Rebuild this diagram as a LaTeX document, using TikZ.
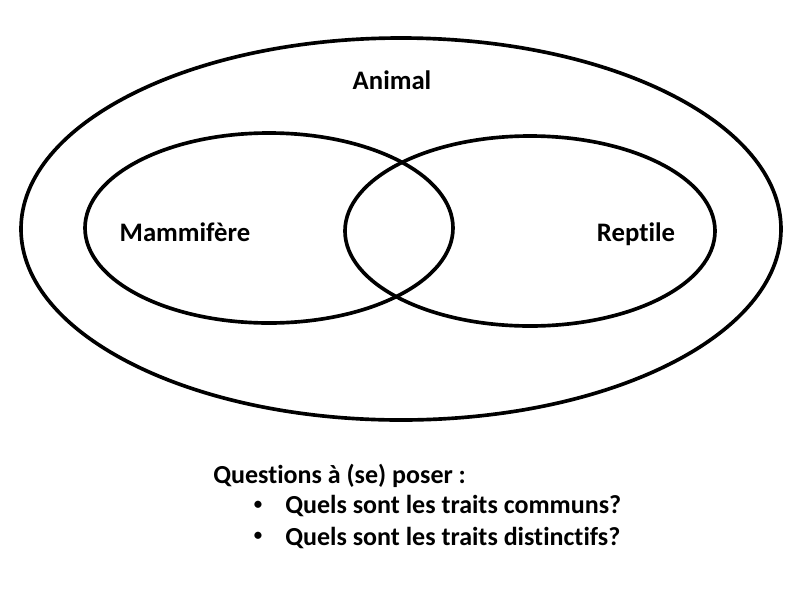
\documentclass[tikz,border=0pt]{standalone}
\usepackage{fontspec}
\setmainfont{Carlito}[Ligatures=NoCommon]
\usetikzlibrary{shapes.geometric}

\tikzset{
	set/.style={draw, ellipse, line width=2.6pt, inner sep=0pt},
	lbl/.style={font=\fontsize{19}{23}\selectfont\bfseries},
	qtext/.style={font=\fontsize{18.5}{22}\selectfont\bfseries, anchor=west, inner sep=0pt},
	dot/.style={font=\fontsize{12}{14}\selectfont\bfseries, inner sep=0pt},
}

\begin{document}
\begin{tikzpicture}
	\useasboundingbox (0,0) rectangle (20,-15);

	\node[set, minimum width=19cm, minimum height=9.55cm] (animal) at (10.025,-5.725) {};
	\node[set, minimum width=9.2cm, minimum height=4.75cm] (mamm) at (6.725,-5.7) {};
	\node[set, minimum width=9.25cm, minimum height=4.75cm] (rept) at (13.25,-5.775) {};

	\node[lbl] (tanimal) at (9.8,-2.0) {Animal};
	\node[lbl] (tmamm) at (4.625,-5.8) {Mammifère};
	\node[lbl] (trept) at (15.9,-5.85) {Reptile};

	\node[qtext] (q) at (5.325,-11.9) {Questions à (se) poser :};
	\node[dot] (b1) at (6.45,-12.64) {•};
	\node[qtext] (q1) at (7.125,-12.66) {Quels sont les traits communs?};
	\node[dot] (b2) at (6.45,-13.42) {•};
	\node[qtext] (q2) at (7.125,-13.44) {Quels sont les traits distinctifs?};
\end{tikzpicture}
\end{document}
